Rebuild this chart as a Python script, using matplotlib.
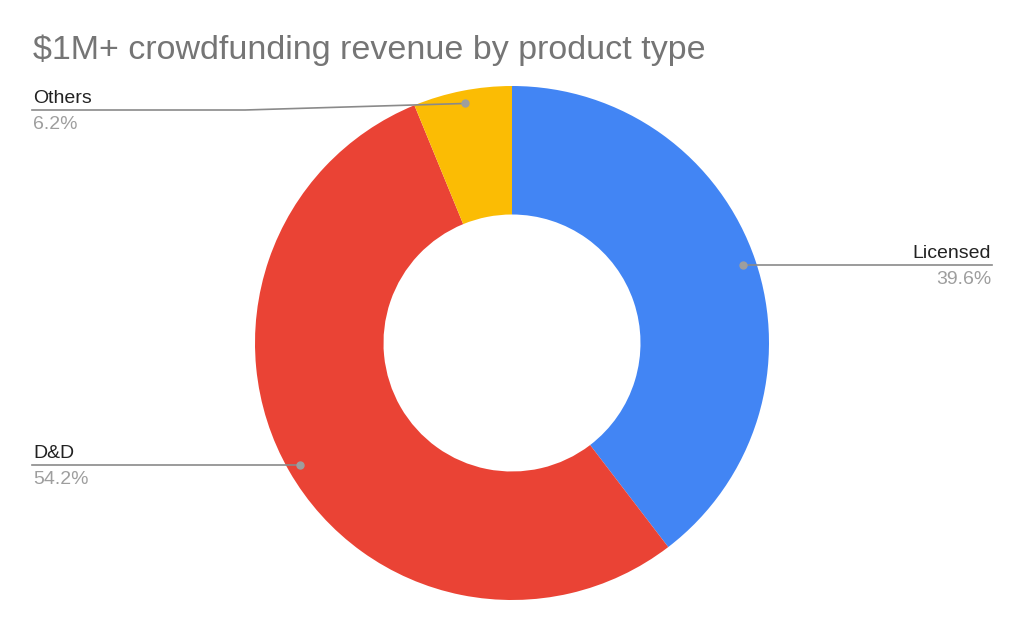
import numpy as np
import matplotlib
matplotlib.use('Agg')
import matplotlib.pyplot as plt

categories = ['Licensed', 'D&D', 'Others']
shares = [39.6, 54.2, 6.2]
colors = ['#4285F4', '#EA4335', '#FBBC04']

plt.rcParams['font.family'] = ['Liberation Sans', 'DejaVu Sans']

W, H = 1024, 633
fig = plt.figure(figsize=(W / 100, H / 100), dpi=100)
ax = fig.add_axes([0, 0, 1, 1])

# work in pixel coords, y measured from bottom
cx, cy, R = 512, H - 343, 257
ax.pie(shares, colors=colors, startangle=90, counterclock=False,
       center=(cx, cy), radius=R,
       wedgeprops=dict(width=R * 0.5, linewidth=0))
ax.set_xlim(0, W)
ax.set_ylim(0, H)
ax.set_aspect('equal')
ax.axis('off')

ax.text(33, H - 59, '$1M+ crowdfunding revenue by product type',
        fontsize=24.5, color='#757575', va='baseline', ha='left')

# leader lines + labels
total = sum(shares)
start = 90.0
line_c = '#8a8a8a'
for name, val in zip(categories, shares):
    sweep = val / total * 360
    mid = np.radians(start - sweep / 2)
    start -= sweep
    dx, dy = cx + 0.95 * R * np.cos(mid), cy + 0.95 * R * np.sin(mid)
    ax.plot(dx, dy, 'o', color='#9e9e9e', ms=5, zorder=5)
    pct = f'{val:.1f}%'
    if np.cos(mid) > 0:
        ly = dy
        ax.plot([dx, 992], [ly, ly], color=line_c, lw=1.2, zorder=4)
        tx, ha = 991, 'right'
    else:
        ly = dy
        if dy > H - 150:  # the small slice near the top
            ly = H - 110
            ax.plot([32, 245, dx], [ly, ly, dy], color=line_c, lw=1.2, zorder=4)
        else:
            ax.plot([32, dx], [ly, ly], color=line_c, lw=1.2, zorder=4)
        tx, ha = 33, 'left'
    ax.text(tx, ly + 7, name, fontsize=14, color='#222222', ha=ha, va='baseline')
    ax.text(tx, ly - 19, pct, fontsize=14, color='#9e9e9e', ha=ha, va='baseline')

fig.savefig('out.png', dpi=100)
